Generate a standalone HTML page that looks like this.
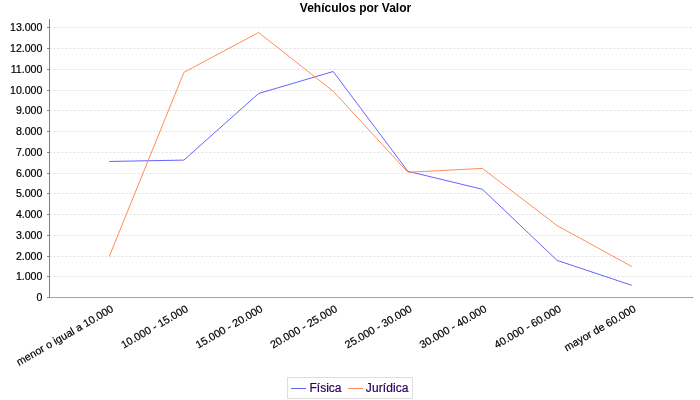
<!DOCTYPE html>
<html><head><meta charset="utf-8"><title>Vehículos por Valor</title>
<style>
html,body{margin:0;padding:0;background:#fff;width:700px;height:400px;overflow:hidden}
svg text{font-family:"Liberation Sans",sans-serif}
svg{will-change:transform}
</style></head><body>
<svg width="700" height="400" viewBox="0 0 700 400" style="display:block">
<line x1="49.5" y1="276.5" x2="692.0" y2="276.5" stroke="#c0c0c0" stroke-width="0.5" stroke-dasharray="2 2"/>
<line x1="49.5" y1="256.5" x2="692.0" y2="256.5" stroke="#c0c0c0" stroke-width="0.5" stroke-dasharray="2 2"/>
<line x1="49.5" y1="235.5" x2="692.0" y2="235.5" stroke="#c0c0c0" stroke-width="0.5" stroke-dasharray="2 2"/>
<line x1="49.5" y1="214.5" x2="692.0" y2="214.5" stroke="#c0c0c0" stroke-width="0.5" stroke-dasharray="2 2"/>
<line x1="49.5" y1="193.5" x2="692.0" y2="193.5" stroke="#c0c0c0" stroke-width="0.5" stroke-dasharray="2 2"/>
<line x1="49.5" y1="173.5" x2="692.0" y2="173.5" stroke="#c0c0c0" stroke-width="0.5" stroke-dasharray="2 2"/>
<line x1="49.5" y1="152.5" x2="692.0" y2="152.5" stroke="#c0c0c0" stroke-width="0.5" stroke-dasharray="2 2"/>
<line x1="49.5" y1="131.5" x2="692.0" y2="131.5" stroke="#c0c0c0" stroke-width="0.5" stroke-dasharray="2 2"/>
<line x1="49.5" y1="110.5" x2="692.0" y2="110.5" stroke="#c0c0c0" stroke-width="0.5" stroke-dasharray="2 2"/>
<line x1="49.5" y1="90.5" x2="692.0" y2="90.5" stroke="#c0c0c0" stroke-width="0.5" stroke-dasharray="2 2"/>
<line x1="49.5" y1="69.5" x2="692.0" y2="69.5" stroke="#c0c0c0" stroke-width="0.5" stroke-dasharray="2 2"/>
<line x1="49.5" y1="48.5" x2="692.0" y2="48.5" stroke="#c0c0c0" stroke-width="0.5" stroke-dasharray="2 2"/>
<line x1="49.5" y1="27.5" x2="692.0" y2="27.5" stroke="#c0c0c0" stroke-width="0.5" stroke-dasharray="2 2"/>
<line x1="49.5" y1="19" x2="49.5" y2="298" stroke="#808080" stroke-width="1" shape-rendering="crispEdges"/>
<line x1="50" y1="297.5" x2="693.0" y2="297.5" stroke="#b0b0b0" stroke-width="1" shape-rendering="crispEdges"/>
<line x1="51.5" y1="297.5" x2="692.5" y2="297.5" stroke="#989898" stroke-width="1" stroke-dasharray="2 2"/>
<rect x="692.0" y="297" width="1" height="1" fill="#787878"/>
<line x1="47" y1="297.5" x2="49" y2="297.5" stroke="#808080" stroke-width="1" shape-rendering="crispEdges"/>
<text x="42.4" y="300.9" text-anchor="end" font-size="10.6" fill="#000" stroke="#000" stroke-width="0.2">0</text>
<line x1="47" y1="276.5" x2="49" y2="276.5" stroke="#808080" stroke-width="1" shape-rendering="crispEdges"/>
<text x="42.4" y="279.9" text-anchor="end" font-size="10.6" fill="#000" stroke="#000" stroke-width="0.2">1.000</text>
<line x1="47" y1="256.5" x2="49" y2="256.5" stroke="#808080" stroke-width="1" shape-rendering="crispEdges"/>
<text x="42.4" y="259.9" text-anchor="end" font-size="10.6" fill="#000" stroke="#000" stroke-width="0.2">2.000</text>
<line x1="47" y1="235.5" x2="49" y2="235.5" stroke="#808080" stroke-width="1" shape-rendering="crispEdges"/>
<text x="42.4" y="238.9" text-anchor="end" font-size="10.6" fill="#000" stroke="#000" stroke-width="0.2">3.000</text>
<line x1="47" y1="214.5" x2="49" y2="214.5" stroke="#808080" stroke-width="1" shape-rendering="crispEdges"/>
<text x="42.4" y="217.9" text-anchor="end" font-size="10.6" fill="#000" stroke="#000" stroke-width="0.2">4.000</text>
<line x1="47" y1="193.5" x2="49" y2="193.5" stroke="#808080" stroke-width="1" shape-rendering="crispEdges"/>
<text x="42.4" y="196.9" text-anchor="end" font-size="10.6" fill="#000" stroke="#000" stroke-width="0.2">5.000</text>
<line x1="47" y1="173.5" x2="49" y2="173.5" stroke="#808080" stroke-width="1" shape-rendering="crispEdges"/>
<text x="42.4" y="176.9" text-anchor="end" font-size="10.6" fill="#000" stroke="#000" stroke-width="0.2">6.000</text>
<line x1="47" y1="152.5" x2="49" y2="152.5" stroke="#808080" stroke-width="1" shape-rendering="crispEdges"/>
<text x="42.4" y="155.9" text-anchor="end" font-size="10.6" fill="#000" stroke="#000" stroke-width="0.2">7.000</text>
<line x1="47" y1="131.5" x2="49" y2="131.5" stroke="#808080" stroke-width="1" shape-rendering="crispEdges"/>
<text x="42.4" y="134.9" text-anchor="end" font-size="10.6" fill="#000" stroke="#000" stroke-width="0.2">8.000</text>
<line x1="47" y1="110.5" x2="49" y2="110.5" stroke="#808080" stroke-width="1" shape-rendering="crispEdges"/>
<text x="42.4" y="113.9" text-anchor="end" font-size="10.6" fill="#000" stroke="#000" stroke-width="0.2">9.000</text>
<line x1="47" y1="90.5" x2="49" y2="90.5" stroke="#808080" stroke-width="1" shape-rendering="crispEdges"/>
<text x="42.4" y="93.9" text-anchor="end" font-size="10.6" fill="#000" stroke="#000" stroke-width="0.2">10.000</text>
<line x1="47" y1="69.5" x2="49" y2="69.5" stroke="#808080" stroke-width="1" shape-rendering="crispEdges"/>
<text x="42.4" y="72.9" text-anchor="end" font-size="10.6" fill="#000" stroke="#000" stroke-width="0.2">11.000</text>
<line x1="47" y1="48.5" x2="49" y2="48.5" stroke="#808080" stroke-width="1" shape-rendering="crispEdges"/>
<text x="42.4" y="51.9" text-anchor="end" font-size="10.6" fill="#000" stroke="#000" stroke-width="0.2">12.000</text>
<line x1="47" y1="27.5" x2="49" y2="27.5" stroke="#808080" stroke-width="1" shape-rendering="crispEdges"/>
<text x="42.4" y="30.9" text-anchor="end" font-size="10.6" fill="#000" stroke="#000" stroke-width="0.2">13.000</text>
<polyline points="109.28,161.45 183.92,160.10 258.55,93.50 333.18,71.50 407.82,171.25 482.45,189.30 557.08,260.40 631.72,285.30" fill="none" stroke="#6464ff" stroke-width="1" stroke-linejoin="miter"/>
<polyline points="109.28,256.45 183.92,72.40 258.55,32.50 333.18,91.20 407.82,172.25 482.45,168.40 557.08,225.60 631.72,266.50" fill="none" stroke="#ff8d5a" stroke-width="1" stroke-linejoin="miter"/>
<text x="110.08" y="303.8" dy="0.78em" text-anchor="end" font-size="10.75" fill="#000" stroke="#000" stroke-width="0.2" transform="rotate(-30 110.08 303.8)">menor o igual a 10.000</text>
<text x="184.72" y="303.8" dy="0.78em" text-anchor="end" font-size="10.75" fill="#000" stroke="#000" stroke-width="0.2" transform="rotate(-30 184.72 303.8)">10.000 - 15.000</text>
<text x="259.35" y="303.8" dy="0.78em" text-anchor="end" font-size="10.75" fill="#000" stroke="#000" stroke-width="0.2" transform="rotate(-30 259.35 303.8)">15.000 - 20.000</text>
<text x="333.98" y="303.8" dy="0.78em" text-anchor="end" font-size="10.75" fill="#000" stroke="#000" stroke-width="0.2" transform="rotate(-30 333.98 303.8)">20.000 - 25.000</text>
<text x="408.62" y="303.8" dy="0.78em" text-anchor="end" font-size="10.75" fill="#000" stroke="#000" stroke-width="0.2" transform="rotate(-30 408.62 303.8)">25.000 - 30.000</text>
<text x="483.25" y="303.8" dy="0.78em" text-anchor="end" font-size="10.75" fill="#000" stroke="#000" stroke-width="0.2" transform="rotate(-30 483.25 303.8)">30.000 - 40.000</text>
<text x="557.88" y="303.8" dy="0.78em" text-anchor="end" font-size="10.75" fill="#000" stroke="#000" stroke-width="0.2" transform="rotate(-30 557.88 303.8)">40.000 - 60.000</text>
<text x="632.52" y="303.8" dy="0.78em" text-anchor="end" font-size="10.75" fill="#000" stroke="#000" stroke-width="0.2" transform="rotate(-30 632.52 303.8)">mayor de 60.000</text>
<text x="355.5" y="12" text-anchor="middle" font-size="12" font-weight="bold" fill="#000">Vehículos por Valor</text>
<rect x="287.5" y="377.5" width="125" height="21" fill="#fff" stroke="#dedede" stroke-width="1"/>
<line x1="291" y1="388.5" x2="306" y2="388.5" stroke="#6464ff" stroke-width="1"/>
<text x="309.5" y="391.7" font-size="12" fill="#2c005c" stroke="#2c005c" stroke-width="0.2">Física</text>
<line x1="348" y1="388.5" x2="363" y2="388.5" stroke="#ff8d5a" stroke-width="1"/>
<text x="365.8" y="391.7" font-size="12" fill="#2c005c" stroke="#2c005c" stroke-width="0.2" letter-spacing="0.1">Jurídica</text>
</svg>
</body></html>
